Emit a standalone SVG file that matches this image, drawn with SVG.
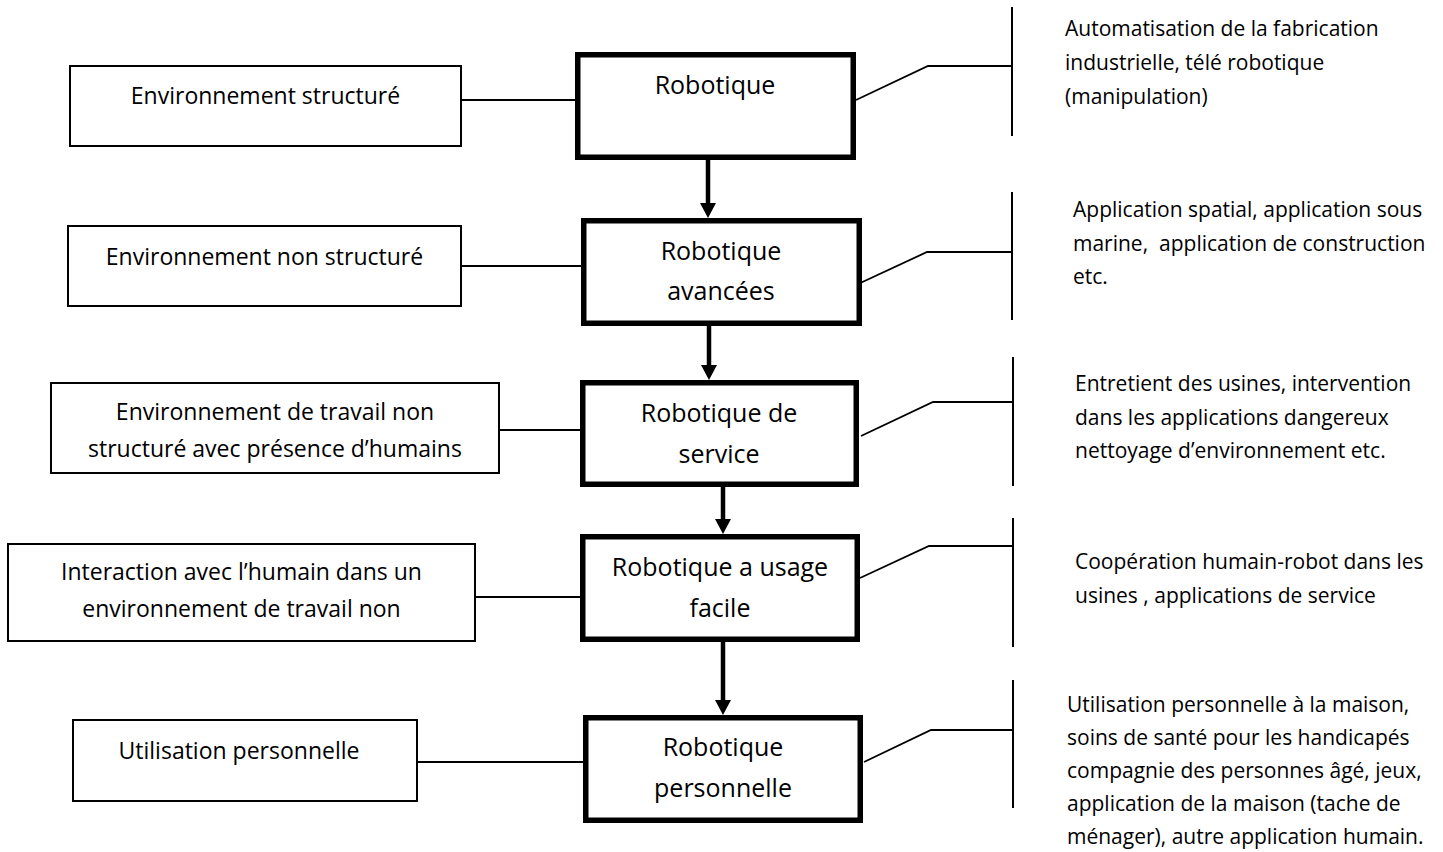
<svg xmlns="http://www.w3.org/2000/svg" width="1443" height="852" viewBox="0 0 1443 852">
<style>
.bg{fill:#fff}
.lbox{fill:#fff;stroke:#000;stroke-width:2}
.cbox{fill:#fff;stroke:#000;stroke-width:5.5}
.thin{fill:none;stroke:#000;stroke-width:1.8}
.vert{fill:none;stroke:#000;stroke-width:2}
.arrow{fill:none;stroke:#000;stroke-width:4.5}
text{font-family:"Open Sans","Noto Sans",sans-serif;fill:#000;white-space:pre}
.lt{font-size:23px;text-anchor:middle}
.ct{font-size:25px;text-anchor:middle}
.rt{font-size:21px}
</style>
<defs>
<marker id="ah" viewBox="0 0 15 16" refX="0" refY="8" markerWidth="15" markerHeight="16" markerUnits="userSpaceOnUse" orient="auto">
<path d="M0,0 L15,8 L0,16 Z" fill="#000"/>
</marker>
</defs>
<rect class="bg" x="0" y="0" width="1443" height="852"/>

<g id="connectors">
<line class="thin" x1="461" y1="100" x2="582" y2="100"/>
<line class="thin" x1="461" y1="266" x2="583" y2="266"/>
<line class="thin" x1="499" y1="430" x2="581" y2="430"/>
<line class="thin" x1="475" y1="597" x2="581" y2="597"/>
<line class="thin" x1="417" y1="762" x2="584" y2="762"/>
<polyline class="thin" points="856,100 928,66 1012,66"/>
<polyline class="thin" points="856,285 927,252 1012,252"/>
<polyline class="thin" points="861,436 933,402 1013,402"/>
<polyline class="thin" points="860,578 929,546 1013,546"/>
<polyline class="thin" points="864,762 931,730 1013,730"/>
<line class="vert" x1="1012" y1="7" x2="1012" y2="136"/>
<line class="vert" x1="1012" y1="192" x2="1012" y2="320"/>
<line class="vert" x1="1013" y1="357" x2="1013" y2="486"/>
<line class="vert" x1="1013" y1="518" x2="1013" y2="647"/>
<line class="vert" x1="1013" y1="680" x2="1013" y2="808"/>
<line class="arrow" x1="708" y1="160" x2="708" y2="203" marker-end="url(#ah)"/>
<line class="arrow" x1="709" y1="326" x2="709" y2="365" marker-end="url(#ah)"/>
<line class="arrow" x1="723" y1="487" x2="723" y2="519" marker-end="url(#ah)"/>
<line class="arrow" x1="723" y1="642" x2="723" y2="700" marker-end="url(#ah)"/>
</g>

<g id="env1">
<rect class="lbox" x="70" y="66" width="391" height="80"/>
<text class="lt" x="265.5" y="104">Environnement structuré</text>
</g>
<g id="env2">
<rect class="lbox" x="68" y="226" width="393" height="80"/>
<text class="lt" x="264.5" y="265">Environnement non structuré</text>
</g>
<g id="env3">
<rect class="lbox" x="51" y="383" width="448" height="90"/>
<text class="lt" x="275" y="420">Environnement de travail non</text>
<text class="lt" x="275" y="457">structuré avec présence d’humains</text>
</g>
<g id="env4">
<rect class="lbox" x="8" y="544" width="467" height="97"/>
<text class="lt" x="241.5" y="580">Interaction avec l’humain dans un</text>
<text class="lt" x="241.5" y="617">environnement de travail non</text>
</g>
<g id="env5">
<rect class="lbox" x="73" y="720" width="344" height="81"/>
<text class="lt" x="239" y="759">Utilisation personnelle</text>
</g>

<g id="rob1">
<rect class="cbox" x="577.75" y="54.75" width="275.5" height="102.5"/>
<text class="ct" x="715" y="94">Robotique</text>
</g>
<g id="rob2">
<rect class="cbox" x="583.75" y="220.75" width="275.5" height="102.5"/>
<text class="ct" x="721" y="260">Robotique</text>
<text class="ct" x="721" y="300">avancées</text>
</g>
<g id="rob3">
<rect class="cbox" x="582.75" y="382.75" width="273.5" height="101.5"/>
<text class="ct" x="719" y="422">Robotique de</text>
<text class="ct" x="719" y="463">service</text>
</g>
<g id="rob4">
<rect class="cbox" x="582.75" y="536.75" width="274.5" height="102.5"/>
<text class="ct" x="720" y="576">Robotique a usage</text>
<text class="ct" x="720" y="617">facile</text>
</g>
<g id="rob5">
<rect class="cbox" x="585.75" y="717.75" width="274.5" height="102.5"/>
<text class="ct" x="723" y="756">Robotique</text>
<text class="ct" x="723" y="797">personnelle</text>
</g>

<g id="app1">
<text class="rt" x="1065" y="36">Automatisation de la fabrication</text>
<text class="rt" x="1065" y="70">industrielle, télé robotique</text>
<text class="rt" x="1065" y="104">(manipulation)</text>
</g>
<g id="app2">
<text class="rt" x="1073" y="217">Application spatial, application sous</text>
<text class="rt" x="1073" y="251">marine,  application de construction</text>
<text class="rt" x="1073" y="284">etc.</text>
</g>
<g id="app3">
<text class="rt" x="1075" y="391">Entretient des usines, intervention</text>
<text class="rt" x="1075" y="425">dans les applications dangereux</text>
<text class="rt" x="1075" y="458">nettoyage d’environnement etc.</text>
</g>
<g id="app4">
<text class="rt" x="1075" y="569">Coopération humain-robot dans les</text>
<text class="rt" x="1075" y="603">usines , applications de service</text>
</g>
<g id="app5">
<text class="rt" x="1067" y="712">Utilisation personnelle à la maison,</text>
<text class="rt" x="1067" y="745">soins de santé pour les handicapés</text>
<text class="rt" x="1067" y="778">compagnie des personnes âgé, jeux,</text>
<text class="rt" x="1067" y="811">application de la maison (tache de</text>
<text class="rt" x="1067" y="844">ménager), autre application humain.</text>
</g>
</svg>
